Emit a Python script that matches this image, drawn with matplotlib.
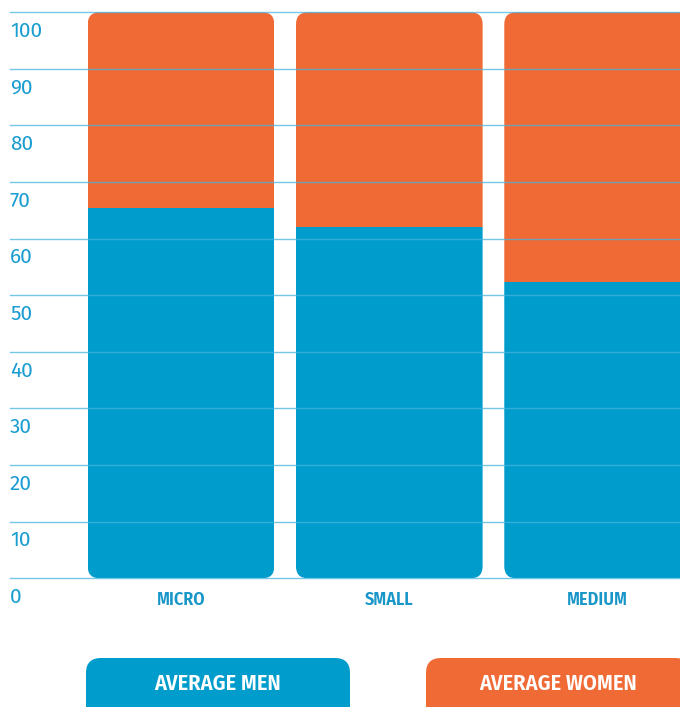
import matplotlib.pyplot as plt
import matplotlib.transforms as mtransforms
from matplotlib.patches import FancyBboxPatch

# Share of men / women by company size (percent)
categories = ['MICRO', 'SMALL', 'MEDIUM']
men = [65.5, 62.0, 52.3]
women = [34.5, 38.0, 47.7]
y_ticks = [0, 10, 20, 30, 40, 50, 60, 70, 80, 90, 100]
legend_labels = ['AVERAGE MEN', 'AVERAGE WOMEN']

blue = '#009ccb'
orange = '#f06a36'
grid_blue = '#45b5df'
text_blue = '#1a9dd0'
cond_font = ['Fira Sans Condensed', 'DejaVu Sans']
num_font = ['Fira Sans', 'DejaVu Sans']

fig = plt.figure(figsize=(6.8, 7.07), dpi=100)
ax = fig.add_axes([10 / 680, 128.7 / 707, 670 / 680, 566 / 707])

x = list(range(len(categories)))
width = 0.896
b1 = ax.bar(x, men, width=width, color=blue, zorder=1)
b2 = ax.bar(x, women, width=width, bottom=men, color=orange, zorder=1)

ax.set_xlim(-0.821, 2.3956)
ax.set_ylim(0, 100)

# rounded column outline, used to clip each stacked pair
r = 12 / 208.3
aspect = (12 * 100 / 566) / r
for i, xi in enumerate(x):
    clip = FancyBboxPatch((xi - width / 2, 0), width, 100,
                          boxstyle=f'round,pad=0,rounding_size={r}',
                          mutation_aspect=aspect, transform=ax.transData,
                          facecolor='none', edgecolor='none')
    ax.add_patch(clip)
    b1[i].set_clip_path(clip)
    b2[i].set_clip_path(clip)

ax.set_yticks(y_ticks)
ax.set_axisbelow(False)
ax.grid(axis='y', color=grid_blue, linewidth=1, alpha=0.75)
for gl in ax.get_ygridlines():
    gl.set_clip_on(False)
ax.tick_params(length=0, labelleft=False, labelbottom=False)
for s in ax.spines.values():
    s.set_visible(False)

# y labels sit just under their gridline
lab_trans = mtransforms.offset_copy(ax.get_yaxis_transform(), fig=fig, x=0, y=-19, units='dots')
for t in y_ticks:
    ax.text(0, t, str(t), transform=lab_trans, ha='left', va='center',
            fontsize=15, fontweight=400, color=text_blue, family=num_font)

cat_trans = mtransforms.offset_copy(ax.transData, fig=fig, x=0, y=-22, units='dots')
for xi, name in zip(x, categories):
    ax.text(xi, 0, name, transform=cat_trans, ha='center', va='center',
            fontsize=13, fontweight=600, color='#1896c8', family=cond_font)

# legend buttons in pixel space
lg = fig.add_axes([0, 0, 1, 1], zorder=5)
lg.set_xlim(0, 680)
lg.set_ylim(707, 0)
lg.axis('off')
boxes = [(86, 350, blue), (426, 690, orange)]
for (x0, x1, col), label in zip(boxes, legend_labels):
    lg.add_patch(FancyBboxPatch((x0, 658), x1 - x0, 70,
                                boxstyle='round,pad=0,rounding_size=15',
                                facecolor=col, edgecolor='none'))
    lg.text((x0 + x1) / 2, 684, label, ha='center', va='center', color='white',
            fontsize=16, fontweight=600, family=cond_font)

fig.savefig('out.png', dpi=100)
